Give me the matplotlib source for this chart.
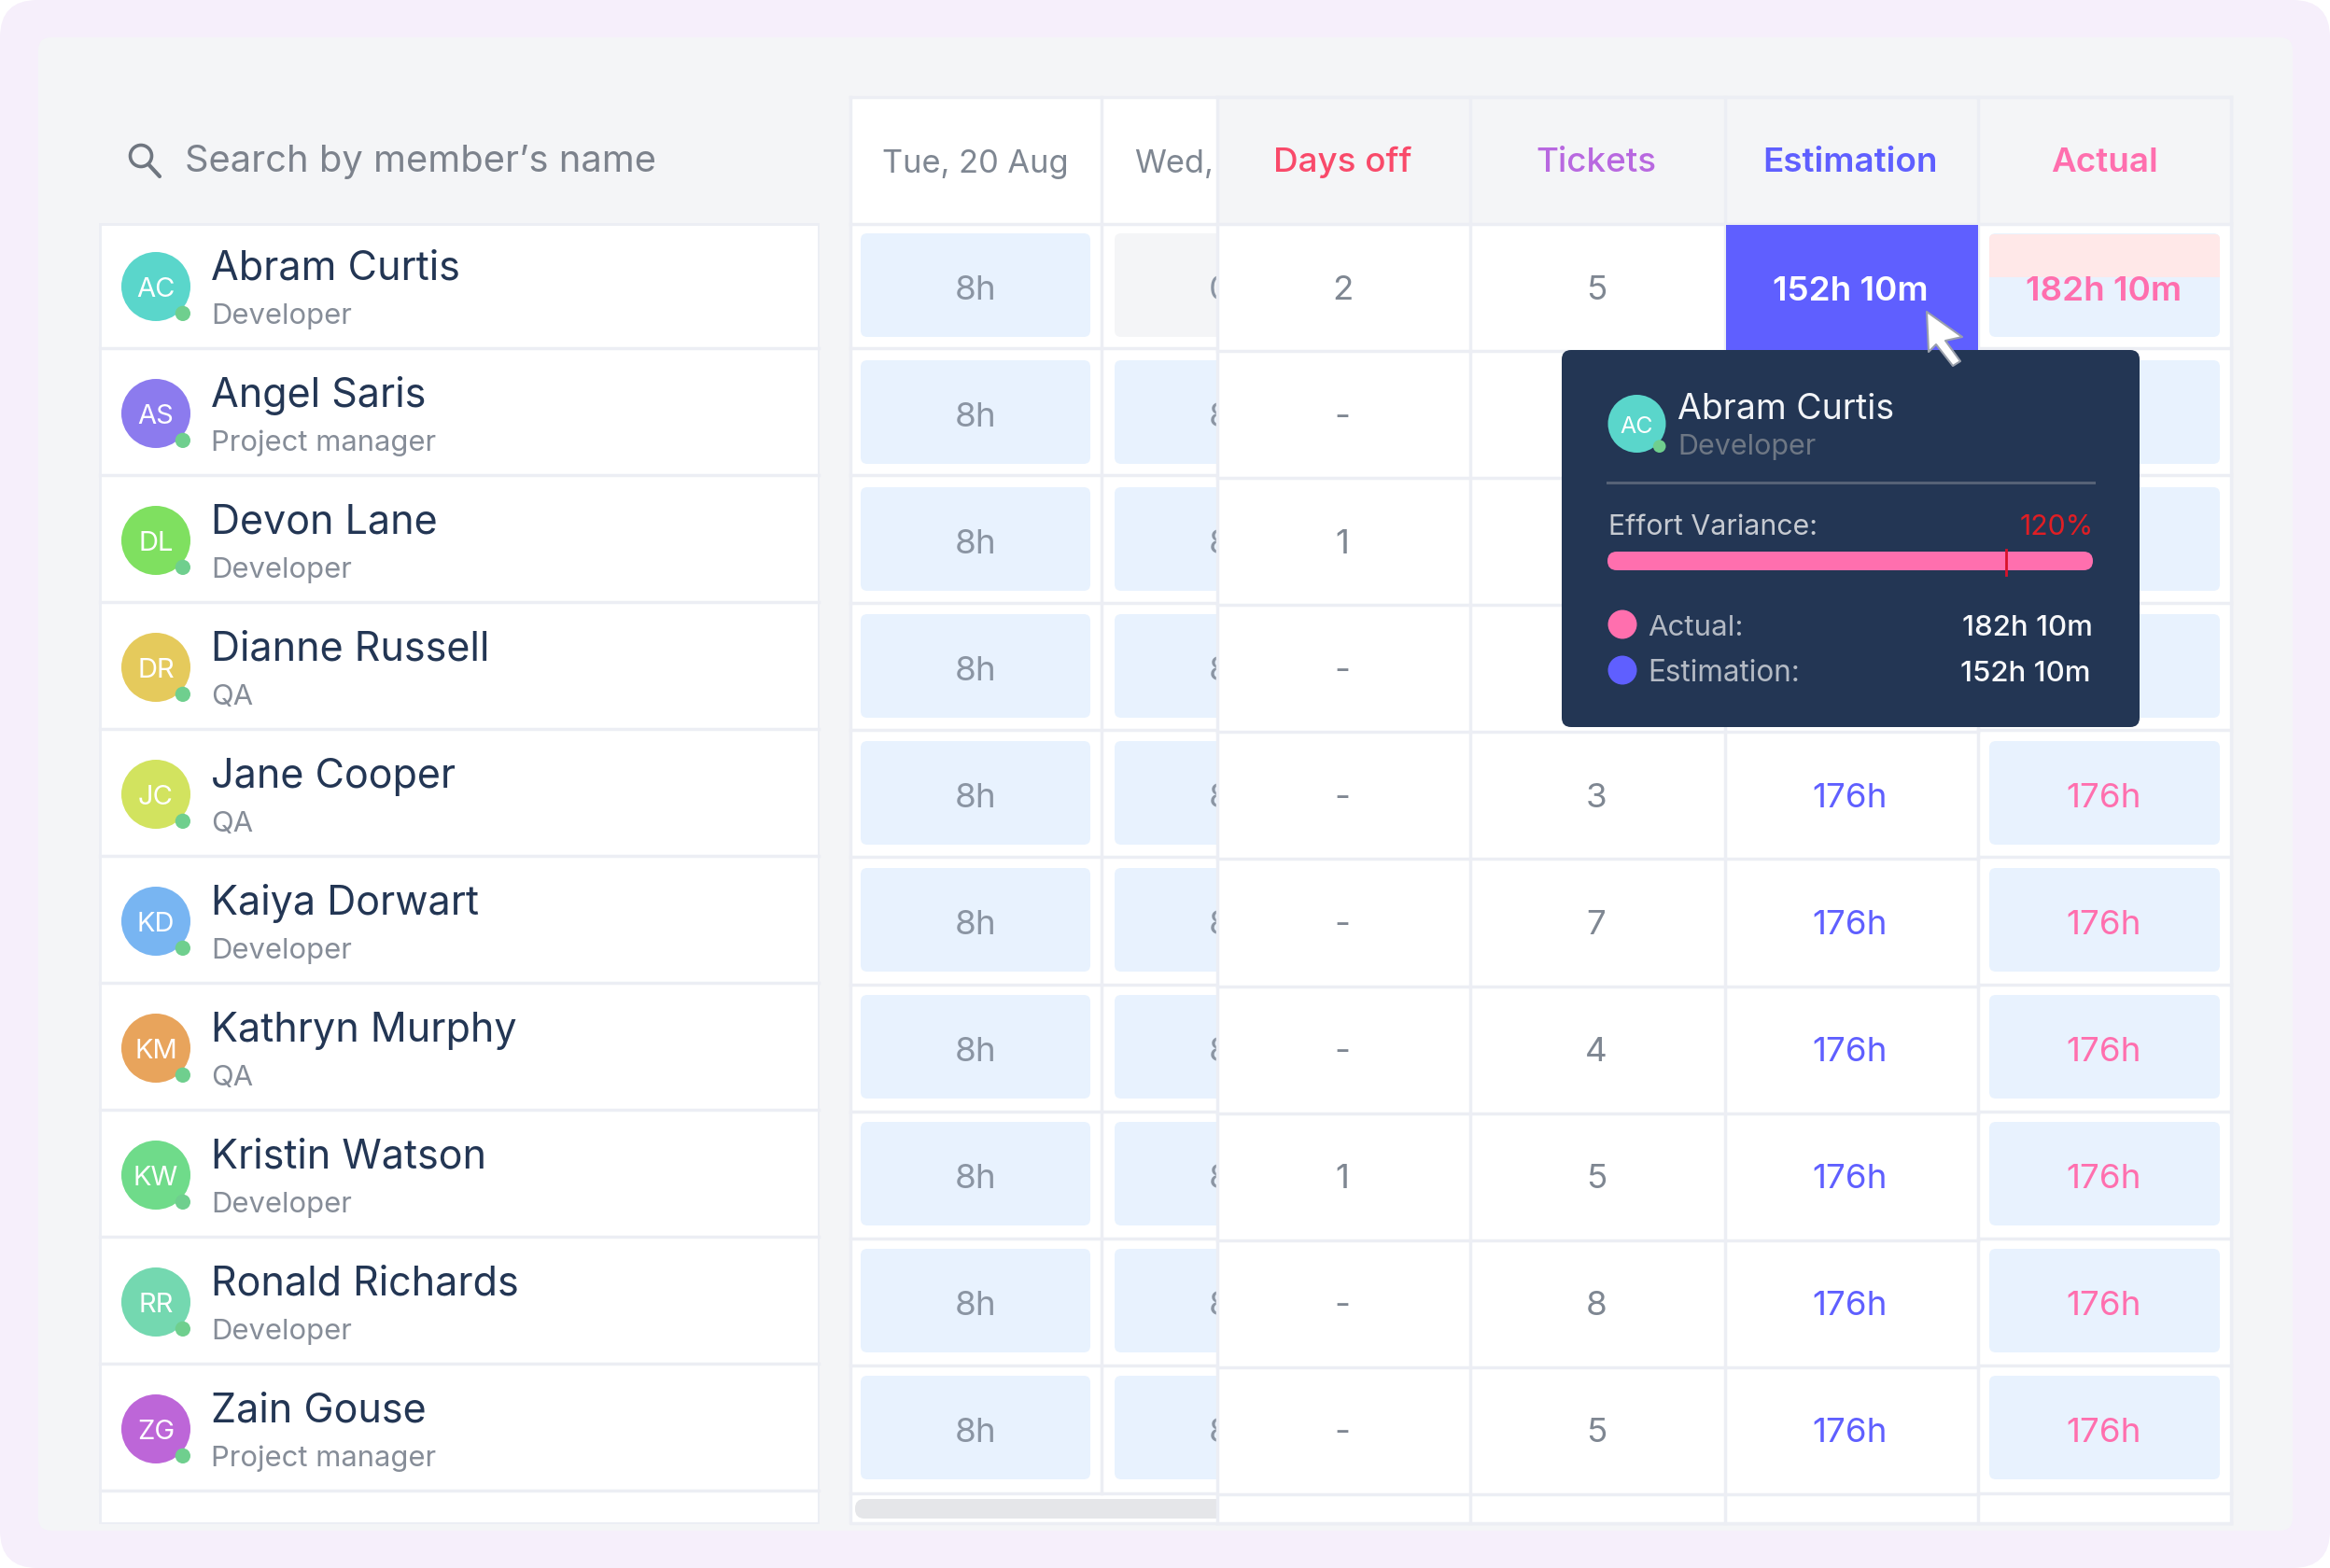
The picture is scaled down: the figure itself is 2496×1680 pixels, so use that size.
import matplotlib
matplotlib.use('Agg')
import matplotlib.pyplot as plt
from matplotlib.patches import Circle, FancyBboxPatch, Polygon, Rectangle

plt.rcParams['font.family'] = ['Inter', 'DejaVu Sans']

names = ['Abram Curtis', 'Angel Saris', 'Devon Lane', 'Dianne Russell', 'Jane Cooper',
         'Kaiya Dorwart', 'Kathryn Murphy', 'Kristin Watson', 'Ronald Richards', 'Zain Gouse']
roles = ['Developer', 'Project manager', 'Developer', 'QA', 'QA',
         'Developer', 'QA', 'Developer', 'Developer', 'Project manager']
initials = ['AC', 'AS', 'DL', 'DR', 'JC', 'KD', 'KM', 'KW', 'RR', 'ZG']
avatarColors = ['#5AD6CB', '#8C7BEE', '#7FE060', '#E5CA5C', '#D2E35F',
                '#78B5F2', '#E8A45C', '#6FDB8A', '#74D8B0', '#BD66D8']
tueHours = ['8h'] * 10
wedHours = ['0h'] + ['8h'] * 9
daysOff = ['2', '-', '1', '-', '-', '-', '-', '1', '-', '-']
# None = hidden behind the tooltip
tickets = ['5', None, None, None, '3', '7', '4', '5', '8', '5']
estimation = ['152h 10m', None, None, None, '176h', '176h', '176h', '176h', '176h', '176h']
actual = ['182h 10m', None, None, None, '176h', '176h', '176h', '176h', '176h', '176h']
stickyHeaders = ['Days off', 'Tickets', 'Estimation', 'Actual']
stickyHeaderColors = ['#F94A6A', '#B868E0', '#5F5FFF', '#FF6FAE']

LINE = '#ECEEF4'
PANEL = '#F4F5F7'
BLUE_CELL = '#E8F2FE'
GRAY = '#7F8792'
NAVY = '#233654'
INDIGO = '#5F5FFF'
PINK = '#FF6FAE'
GREEN = '#6FCF8E'


def box(ax, x0, y0, x1, y1, color, r=0, z=1, **kwargs):
    if r == 0:
        p = Rectangle((x0, y0), x1 - x0, y1 - y0, fc=color, ec='none', zorder=z, **kwargs)
    else:
        p = FancyBboxPatch((x0 + r, y0 + r), x1 - x0 - 2 * r, y1 - y0 - 2 * r,
                           boxstyle=f'round,pad={r},rounding_size={r}', fc=color, ec='none', zorder=z, **kwargs)
    ax.add_patch(p)
    return p


def label(ax, x, y, s, size, color, ha='left', z=5, weight='normal', **kwargs):
    return ax.text(x, y, s, fontsize=size, color=color, ha=ha, va='baseline', zorder=z, fontweight=weight, **kwargs)


def avatar(ax, x, y, r, color, text, size, z=3):
    ax.add_patch(Circle((x, y), r, fc=color, ec='none', zorder=z))
    ax.add_patch(Circle((x + r * 0.78, y + r * 0.78), r * 0.22, fc=GREEN, ec='none', zorder=z + 0.1))
    ax.text(x, y + 3, text, fontsize=size, color='white', ha='center', va='center', zorder=z + 0.2)


fig = plt.figure(figsize=(24.96, 16.80), dpi=100, facecolor='white')
ax = fig.add_axes([0, 0, 1, 1])
ax.set_xlim(0, 2496)
ax.set_ylim(1680, 0)
ax.axis('off')

# backgrounds
box(ax, 0, 0, 2496, 1680, '#F6EFFB', r=40, z=0)
box(ax, 41, 40, 2456, 1640, PANEL, r=14, z=0.5)

# search
ax.add_patch(Circle((151, 167), 11.5, fc='none', ec='#6F7680', lw=2.6, zorder=3))
ax.plot([159, 171], [176, 189], color='#6F7680', lw=3, solid_capstyle='round', zorder=3)
label(ax, 198, 184, 'Search by member\u2019s name', 28.7, '#7C828C')

# member list
leftStep = 136
box(ax, 106, 239, 878, 1633, LINE, z=1)
box(ax, 109, 242, 876, 1631, 'white', z=1.1)
for i in range(10):
    y = 373 + leftStep * i
    ax.plot([107, 877], [y, y], color=LINE, lw=2.5, zorder=2)
    cy = 307 + leftStep * i
    avatar(ax, 167, cy, 37, avatarColors[i], initials[i], 21)
    label(ax, 226, 300 + leftStep * i, names[i], 31, NAVY)
    label(ax, 226, 347 + leftStep * i, roles[i], 22.3, '#868D98')

# scrolling day columns
tableTop, headerBottom, tableBottom, tableRight = 104, 240, 1632, 2390
box(ax, 911, tableTop, tableRight, tableBottom, 'white', z=1)
ax.plot([911, 2390, 2390, 911, 911], [tableTop, tableTop, tableBottom, tableBottom, tableTop],
        color=LINE, lw=2.5, zorder=2.5)
ax.plot([1180, 1180], [tableTop, 1600], color=LINE, lw=2.5, zorder=2)
ax.plot([911, 1304], [headerBottom, headerBottom], color=LINE, lw=2.5, zorder=2)
label(ax, 1045, 185, 'Tue, 20 Aug', 24.8, GRAY, ha='center', z=3)
label(ax, 1215, 185, 'Wed,', 24.8, GRAY, ha='left', z=3)
for i in range(10):
    y = 373 + 136.3 * i
    ax.plot([911, 1304], [y, y], color=LINE, lw=2.5, zorder=2)
    cellTop = 250 + 136 * i
    box(ax, 922, cellTop, 1168, cellTop + 111, BLUE_CELL, r=7, z=2)
    box(ax, 1194, cellTop, 1440, cellTop + 111, PANEL if wedHours[i] == '0h' else BLUE_CELL, r=7, z=2)
    label(ax, 1045, 321 + 136 * i, tueHours[i], 26.5, '#8B95A3', ha='center', z=3)
    label(ax, 1317, 321 + 136 * i, wedHours[i], 26.5, '#8B95A3', ha='center', z=3)
box(ax, 916, 1606, 1400, 1627, '#E5E6E9', r=10, z=2)

# sticky summary columns, drawn over the day columns
colEdges = [1304, 1575, 1848, 2119, 2390]
box(ax, 1304, tableTop, 2390, tableBottom, 'white', z=4)
box(ax, 1304, tableTop + 1, 2390, headerBottom - 1, PANEL, z=4.05)
colCenters = [1438, 1710, 1982, 2254]
for j, header in enumerate(stickyHeaders):
    label(ax, colCenters[j], 184, header, 26.5, stickyHeaderColors[j], ha='center',
          weight='semibold' if j > 1 else 'medium', z=4.5)
for x in colEdges:
    ax.plot([x, x], [tableTop, tableBottom], color=LINE, lw=2.5, zorder=4.2)
ax.plot([1304, 2390], [tableTop, tableTop], color=LINE, lw=2.5, zorder=4.2)
ax.plot([1304, 2390], [tableBottom, tableBottom], color=LINE, lw=2.5, zorder=4.2)
ax.plot([1304, 2390], [headerBottom, headerBottom], color=LINE, lw=2.5, zorder=4.2)
for i in range(10):
    y = 376 + 136.1 * i
    ax.plot([1304, 2119], [y, y], color=LINE, lw=2.5, zorder=4.2)
    y2 = 373 + 136.3 * i
    ax.plot([2119, 2390], [y2, y2], color=LINE, lw=2.5, zorder=4.2)
    cellTop = 250 + 136 * i
    box(ax, 2131, cellTop, 2378, cellTop + 111, BLUE_CELL, r=7, z=4.3)
    base = 321 + 136 * i
    label(ax, colCenters[0], base, daysOff[i], 26.5, GRAY, ha='center')
    if tickets[i] is not None:
        label(ax, colCenters[1], base, tickets[i], 26.5, GRAY, ha='center')
    if estimation[i] is not None and i > 0:
        label(ax, colCenters[2], base, estimation[i], 26.5, INDIGO, ha='center')
    if actual[i] is not None and i > 0:
        label(ax, colCenters[3], base, actual[i], 26.5, PINK, ha='center')

# hovered row
box(ax, 1849, 241, 2119, 376, INDIGO, z=4.6)
label(ax, colCenters[2], 322, estimation[0], 26.5, 'white', ha='center', weight='semibold')
box(ax, 2131, 251, 2378, 297, '#FFE8E8', r=5, z=4.4)
box(ax, 2131, 285, 2378, 297, '#FFE8E8', z=4.4)
label(ax, colCenters[3], 322, actual[0], 26.5, PINK, ha='center', weight='semibold')

# tooltip
box(ax, 1673, 375, 2292, 779, NAVY, r=10, z=6)
avatar(ax, 1753.5, 454, 31, avatarColors[0], initials[0], 18, z=6.2)
label(ax, 1797, 449, names[0], 27, '#F2F4F7', z=6.5)
label(ax, 1797, 487, roles[0], 22, '#6E7784', z=6.5)
ax.plot([1722, 2243], [517, 517], color='#566277', lw=2.2, zorder=6.3)
label(ax, 1723, 573, 'Effort Variance:', 21.8, '#C6CAD1', z=6.5)
label(ax, 2243, 573, '120%', 21.8, '#E01E24', ha='right', z=6.5)
box(ax, 1722, 591, 2242, 611, PINK, r=10, z=6.3)
ax.plot([2149, 2149], [589, 616], color='#D9122A', lw=2, zorder=6.4)
ax.add_patch(Circle((1738, 669), 15.5, fc=PINK, ec='none', zorder=6.3))
ax.add_patch(Circle((1738, 718), 15.5, fc=INDIGO, ec='none', zorder=6.3))
label(ax, 1765, 681, 'Actual:', 22.5, '#B4BAC4', z=6.5)
label(ax, 1765, 730, 'Estimation:', 22.7, '#B4BAC4', z=6.5)
label(ax, 2242, 681, actual[0], 22.5, '#F7F8FA', ha='right', z=6.5, weight='medium')
label(ax, 2240, 730, estimation[0], 22.5, '#F7F8FA', ha='right', z=6.5, weight='medium')

# cursor
cursor = [(2064, 334), (2102, 361), (2084, 365), (2100, 387), (2092, 392), (2074, 369), (2066, 377)]
ax.add_patch(Polygon(cursor, closed=True, fc='white', ec='#9AA0AC', lw=1.5, joinstyle='round', zorder=7))

fig.savefig('out.png', dpi=100)
